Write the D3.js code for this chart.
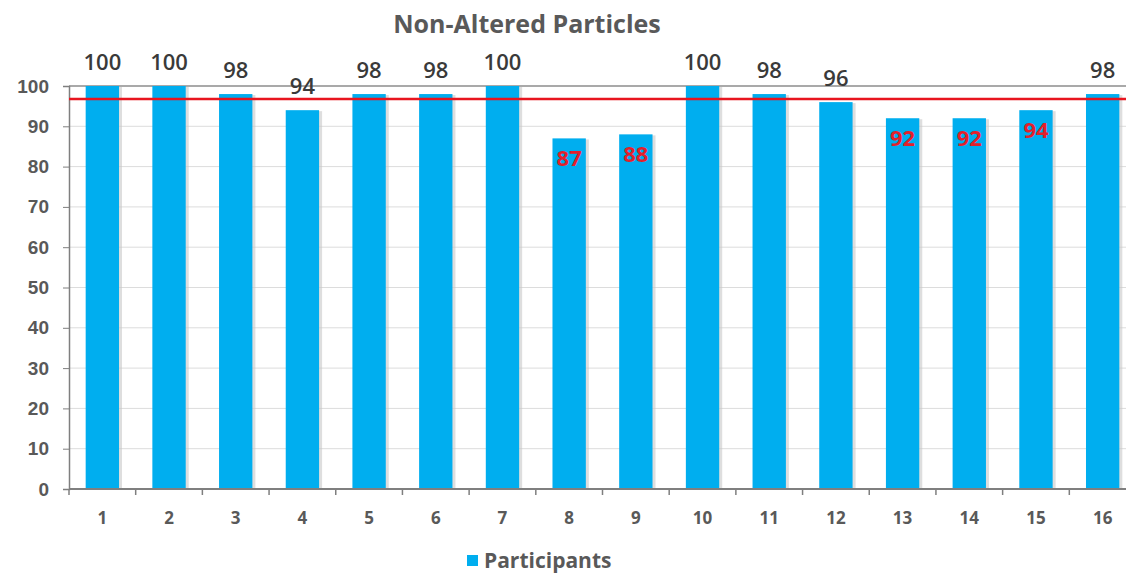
<!DOCTYPE html>
<html>
<head>
<meta charset="utf-8">
<script src="https://d3js.org/d3.v7.min.js"></script>
<style>
  body { margin: 0; background: #fff; }
  svg { display: block; font-family: "Open Sans", "Liberation Sans", sans-serif; }
</style>
</head>
<body>
<script>
// chart data
var categories = ["1", "2", "3", "4", "5", "6", "7", "8", "9", "10", "11", "12", "13", "14", "15", "16"];
var participants = [100, 100, 98, 94, 98, 98, 100, 87, 88, 100, 98, 96, 92, 92, 94, 98];
// categories whose label is drawn red, inside the bar
var highlighted = ["8", "9", "13", "14", "15"];
var yTicks = [0, 10, 20, 30, 40, 50, 60, 70, 80, 90, 100];
var threshold = 96.8;
var seriesName = "Participants";
var chartTitle = "Non-Altered Particles";

var w = 1126;
var h = 574;
var plotLeft = 69;
var plotRight = 1136;   // plot runs a bit past the right edge
var plotTop = 86;
var plotBottom = 489;

var blue = "#00aeef";
var grey = "#595959";
var red = "#e3202b";

var svg = d3.select("body")
  .append("svg")
  .attr("width", w)
  .attr("height", h);

var x = d3.scaleBand()
  .domain(categories)
  .range([plotLeft, plotRight])
  .paddingInner(0.5)
  .paddingOuter(0.25);

var y = d3.scaleLinear()
  .domain([0, 100])
  .range([plotBottom, plotTop]);

var isRed = function(i) {
  return highlighted.indexOf(categories[i]) >= 0;
};

// gridlines
svg.append("g")
  .selectAll("line")
  .data(yTicks.filter(function(d) { return d > 0; }))
  .enter()
  .append("line")
  .attr("x1", plotLeft)
  .attr("x2", plotRight)
  .attr("y1", function(d) { return y(d); })
  .attr("y2", function(d) { return y(d); })
  .attr("stroke", function(d) { return d === 100 ? "#8c8c8c" : "#dcdcdc"; })
  .attr("stroke-width", function(d) { return d === 100 ? 1.5 : 1; });

// bar shadows
svg.append("g")
  .selectAll("rect")
  .data(participants)
  .enter()
  .append("rect")
  .attr("x", function(d, i) { return x(categories[i]) + 2; })
  .attr("y", function(d) { return y(d) + 1; })
  .attr("width", x.bandwidth() + 1)
  .attr("height", function(d) { return plotBottom - y(d) - 1; })
  .attr("fill", "#c8c8c8")
  .attr("opacity", 0.6);

// bars
svg.append("g")
  .selectAll("rect")
  .data(participants)
  .enter()
  .append("rect")
  .attr("x", function(d, i) { return x(categories[i]); })
  .attr("y", function(d) { return y(d); })
  .attr("width", x.bandwidth())
  .attr("height", function(d) { return plotBottom - y(d); })
  .attr("fill", blue);

// y axis
var yAxis = d3.axisLeft(y)
  .tickValues(yTicks)
  .tickSize(6)
  .tickPadding(14);

var gy = svg.append("g")
  .attr("transform", "translate(" + plotLeft + ",0)")
  .call(yAxis);
gy.select(".domain").attr("stroke", "#7f7f7f").attr("stroke-width", 1.5);
gy.selectAll(".tick line").attr("stroke", "#7f7f7f");
gy.selectAll(".tick text")
  .attr("fill", grey)
  .attr("font-size", 19)
  .attr("font-weight", "bold");

// x axis with ticks on band edges
var gx = svg.append("g")
  .attr("transform", "translate(0," + plotBottom + ")");
gx.append("line")
  .attr("x1", plotLeft)
  .attr("x2", plotRight)
  .attr("stroke", "#7f7f7f")
  .attr("stroke-width", 2);
var step = x.step();
gx.selectAll(".xt")
  .data(categories)
  .enter()
  .append("line")
  .attr("class", "xt")
  .attr("x1", function(d) { return x(d) - step * 0.25; })
  .attr("x2", function(d) { return x(d) - step * 0.25; })
  .attr("y1", 0)
  .attr("y2", 6)
  .attr("stroke", "#7f7f7f")
  .attr("stroke-width", 1.5);
gx.selectAll("text")
  .data(categories)
  .enter()
  .append("text")
  .attr("x", function(d) { return x(d) + x.bandwidth() / 2; })
  .attr("y", 35)
  .attr("text-anchor", "middle")
  .attr("fill", grey)
  .attr("font-size", 17)
  .attr("font-weight", "bold")
  .text(function(d) { return d; });

// threshold line
svg.append("line")
  .attr("x1", plotLeft)
  .attr("x2", plotRight)
  .attr("y1", y(threshold))
  .attr("y2", y(threshold))
  .attr("stroke", "#e8151f")
  .attr("stroke-width", 2.5);

// data labels: above the bar, or red inside for the highlighted ones
svg.append("g")
  .selectAll("text")
  .data(participants)
  .enter()
  .append("text")
  .attr("x", function(d, i) { return x(categories[i]) + x.bandwidth() / 2; })
  .attr("y", function(d, i) { return isRed(i) ? y(d) + 28 : y(d) - 16; })
  .attr("text-anchor", "middle")
  .attr("font-size", 22)
  .attr("font-weight", function(d, i) { return isRed(i) ? "bold" : "600"; })
  .attr("fill", function(d, i) { return isRed(i) ? red : "#3a3a3a"; })
  .text(function(d) { return d; });

// title
svg.append("text")
  .attr("x", 527)
  .attr("y", 33)
  .attr("text-anchor", "middle")
  .attr("fill", grey)
  .attr("font-size", 25)
  .attr("font-weight", "bold")
  .text(chartTitle);

// legend
var lg = svg.append("g").attr("transform", "translate(467,555)");
lg.append("rect")
  .attr("width", 11)
  .attr("height", 11)
  .attr("fill", blue);
lg.append("text")
  .attr("x", 17)
  .attr("y", 13)
  .attr("fill", grey)
  .attr("font-size", 21)
  .attr("font-weight", "bold")
  .text(seriesName);
</script>
</body>
</html>
